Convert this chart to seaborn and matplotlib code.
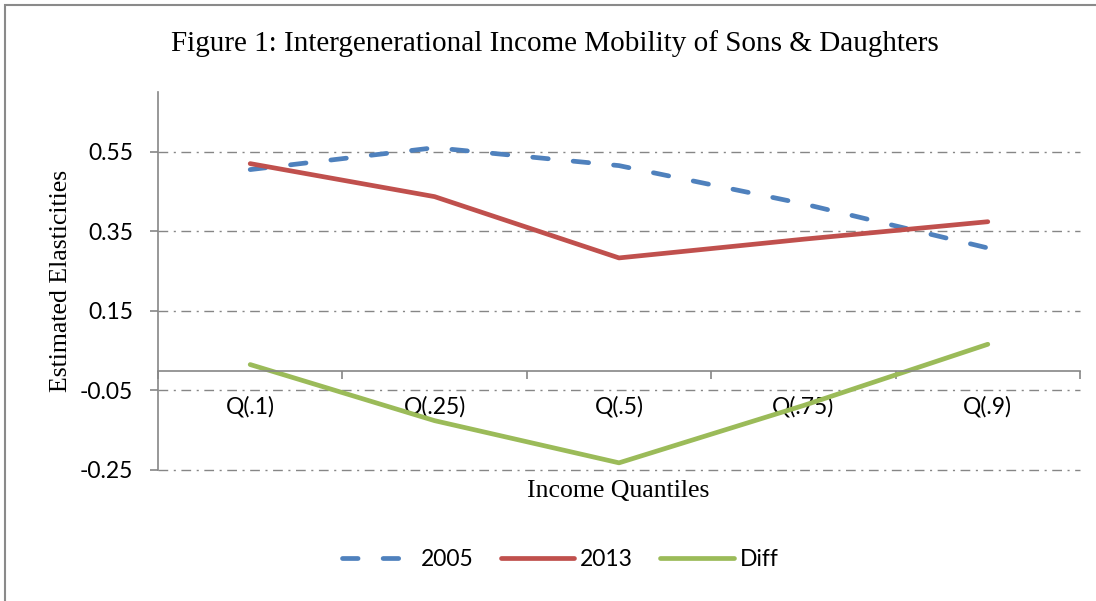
import matplotlib
matplotlib.use("Agg")
import matplotlib.pyplot as plt
import seaborn as sns
import pandas as pd
from matplotlib.patches import Rectangle

quantiles = ["Q(.1)", "Q(.25)", "Q(.5)", "Q(.75)", "Q(.9)"]
v2005 = [0.505, 0.560, 0.515, 0.419, 0.308]
v2013 = [0.520, 0.437, 0.283, 0.330, 0.374]
vdiff = [0.015, -0.126, -0.232, -0.088, 0.066]
series_names = ["2005", "2013", "Diff"]
yticks = [-0.25, -0.05, 0.15, 0.35, 0.55]
ytick_labels = ["-0.25", "-0.05", "0.15", "0.35", "0.55"]

df = pd.DataFrame({
    "Quantile": quantiles * 3,
    "Value": v2005 + v2013 + vdiff,
    "Series": [series_names[0]] * 5 + [series_names[1]] * 5 + [series_names[2]] * 5,
})

sns.set_style("white")
plt.rcParams["text.color"] = "black"
plt.rcParams["xtick.color"] = "black"
plt.rcParams["ytick.color"] = "black"
plt.rcParams["axes.labelcolor"] = "black"
sans = ["Lato", "DejaVu Sans"]
serif = ["Liberation Serif", "DejaVu Serif"]
SANS_SIZE = 16.5
SERIF_SIZE = 18.5

fig = plt.figure(figsize=(10.96, 6.01), dpi=100)
ax = fig.add_axes([158 / 1096, 1 - 470 / 601, (1080 - 158) / 1096, (470 - 92) / 601])

palette = {"2005": "#4F81BD", "2013": "#C0504D", "Diff": "#9BBB59"}
dashes = {"2005": (3.3, 5.3), "2013": "", "Diff": ""}
sns.lineplot(data=df, x="Quantile", y="Value", hue="Series", style="Series",
             palette=palette, dashes=dashes, linewidth=3.4, sort=False,
             legend=True, ax=ax)
for ln in ax.get_lines():
    ln.set_dash_capstyle("round")
    ln.set_solid_capstyle("round")

ax.set_xlim(-0.5, 4.5)
ax.set_ylim(-0.25, 0.70)

# gridlines
for yv in yticks:
    ax.axhline(yv, color="#868686", lw=1.0, ls=(0, (7, 4, 1.5, 4)), zorder=0, clip_on=False)

for s in ["top", "right"]:
    ax.spines[s].set_visible(False)
ax.spines["left"].set_color("#868686")
ax.spines["left"].set_linewidth(1.2)
ax.spines["bottom"].set_position(("data", 0))
ax.spines["bottom"].set_color("#868686")
ax.spines["bottom"].set_linewidth(1.2)

ax.set_yticks(yticks)
ax.set_yticklabels(ytick_labels, fontfamily=sans, fontsize=SANS_SIZE, color="black")
ax.tick_params(axis="y", direction="out", length=6, width=1.2, color="#868686", pad=12, left=True)

ax.set_xticks(range(len(quantiles)))
ax.set_xticklabels(quantiles, fontfamily=sans, fontsize=SANS_SIZE, color="black")
ax.tick_params(axis="x", which="major", length=0, pad=18)
ax.set_xticks([i - 0.5 for i in range(len(quantiles) + 1)], minor=True)
ax.tick_params(axis="x", which="minor", direction="out", length=6, width=1.2, color="#868686", bottom=True)

ax.set_xlabel("")
ax.set_ylabel("Estimated Elasticities", fontfamily=serif, fontsize=SERIF_SIZE, labelpad=5.5, color="black")
fig.text(618 / 1096, 1 - 491 / 601, "Income Quantiles", ha="center", va="center",
         fontfamily=serif, fontsize=SERIF_SIZE, color="black")

fig.text(555 / 1096, 1 - 44 / 601, "Figure 1: Intergenerational Income Mobility of Sons & Daughters",
         ha="center", va="center", fontfamily=serif, fontsize=21, color="black")

handles, labels = ax.get_legend_handles_labels()
ax.get_legend().remove()
for h in handles:
    h.set_dash_capstyle("round")
    h.set_solid_capstyle("round")
leg = fig.legend(handles, labels, loc="center", bbox_to_anchor=(560 / 1096, 1 - 560 / 601), ncol=3,
                 frameon=False, prop={"family": sans, "size": SANS_SIZE}, handlelength=3.2,
                 handletextpad=0.25, columnspacing=1.2)

fig.patches.append(Rectangle((5 / 1096, -0.1), 1.2, 1 - 5 / 601 + 0.1, transform=fig.transFigure,
                             fill=False, edgecolor="#8a8a8a", lw=1.5))

fig.savefig("out.png", dpi=100)
